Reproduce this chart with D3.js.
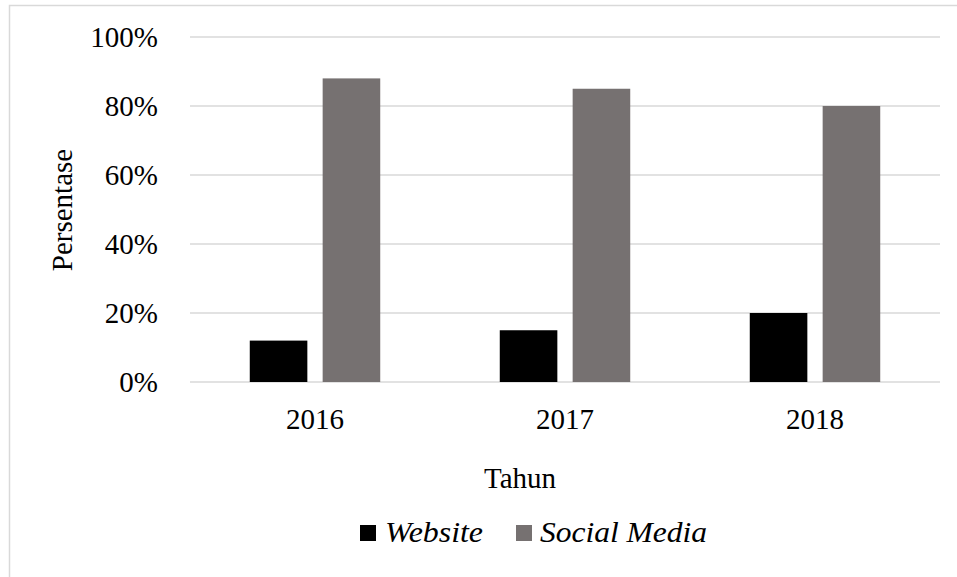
<!DOCTYPE html>
<html>
<head>
<meta charset="utf-8">
<style>
  body { margin: 0; background: #ffffff; }
  svg text { font-family: "Liberation Serif", "DejaVu Serif", serif; fill: #000; }
</style>
</head>
<body>
<script src="https://d3js.org/d3.v7.min.js"></script>
<script>
  // data
  var years = ["2016", "2017", "2018"];
  var seriesNames = ["Website", "Social Media"];
  var website = [0.12, 0.15, 0.20];
  var socialMedia = [0.88, 0.85, 0.80];
  var yTicks = [0, 0.2, 0.4, 0.6, 0.8, 1.0];
  var colors = ["#000000", "#767171"];

  var w = 957, h = 577;
  var margin = { top: 37, right: 17, bottom: 195, left: 190 };

  var svg = d3.select("body").append("svg")
    .attr("width", w)
    .attr("height", h);

  // chart border (cut off at right and bottom)
  svg.append("rect")
    .attr("x", 9.5).attr("y", 5.5)
    .attr("width", w + 20).attr("height", h + 20)
    .attr("fill", "none")
    .attr("stroke", "#d9d9d9")
    .attr("stroke-width", 1.5);

  var x = d3.scaleBand()
    .domain(years)
    .range([margin.left, w - margin.right]);

  var x1 = d3.scaleBand()
    .domain(seriesNames)
    .range([0, x.bandwidth()])
    .paddingInner(0.21)
    .paddingOuter(0.82);

  var y = d3.scaleLinear()
    .domain([0, 1])
    .range([h - margin.bottom, margin.top]);

  // gridlines
  svg.append("g")
    .selectAll("line")
    .data(yTicks)
    .enter()
    .append("line")
    .attr("x1", margin.left)
    .attr("x2", w - margin.right)
    .attr("y1", function (d) { return y(d); })
    .attr("y2", function (d) { return y(d); })
    .attr("stroke", "#d9d9d9")
    .attr("stroke-width", 1.5);

  // y axis labels
  var yAxis = svg.append("g")
    .attr("transform", "translate(" + margin.left + ",0)")
    .call(d3.axisLeft(y).tickValues(yTicks).tickFormat(d3.format(".0%")).tickSize(0).tickPadding(32));
  yAxis.select(".domain").remove();
  yAxis.selectAll("text")
    .attr("font-size", "29px")
    .attr("fill", "#000");

  // bars
  var series = [website, socialMedia];
  var groups = svg.append("g")
    .selectAll("g")
    .data(years)
    .enter()
    .append("g")
    .attr("transform", function (d) { return "translate(" + x(d) + ",0)"; });

  groups.selectAll("rect")
    .data(function (d, i) {
      return seriesNames.map(function (s, j) { return { name: s, value: series[j][i], k: j }; });
    })
    .enter()
    .append("rect")
    .attr("x", function (d) { return x1(d.name); })
    .attr("width", x1.bandwidth())
    .attr("y", function (d) { return y(d.value); })
    .attr("height", function (d) { return y(0) - y(d.value); })
    .attr("fill", function (d) { return colors[d.k]; });

  // x axis labels
  var xAxis = svg.append("g")
    .attr("transform", "translate(0," + y(0) + ")")
    .call(d3.axisBottom(x).tickSize(0).tickPadding(26));
  xAxis.select(".domain").remove();
  xAxis.selectAll("text")
    .attr("font-size", "29px")
    .attr("fill", "#000");

  // axis titles
  svg.append("text")
    .attr("x", 520)
    .attr("y", 488)
    .attr("text-anchor", "middle")
    .attr("font-size", "29px")
    .text("Tahun");

  svg.append("text")
    .attr("transform", "translate(72,210) rotate(-90)")
    .attr("text-anchor", "middle")
    .attr("font-size", "29px")
    .text("Persentase");

  // legend
  var legendX = [360, 516];
  var legendW = [98, 167];
  var legend = svg.append("g")
    .selectAll("g")
    .data(seriesNames)
    .enter()
    .append("g")
    .attr("transform", function (d, i) { return "translate(" + legendX[i] + ",525)"; });
  legend.append("rect")
    .attr("width", 16).attr("height", 16)
    .attr("fill", function (d, i) { return colors[i]; });
  legend.append("text")
    .attr("x", function (d, i) { return i === 0 ? 25 : 24; })
    .attr("y", 16.5)
    .attr("font-size", "30px")
    .attr("font-style", "italic")
    .attr("textLength", function (d, i) { return legendW[i]; })
    .attr("lengthAdjust", "spacingAndGlyphs")
    .text(function (d) { return d; });
</script>
</body>
</html>
